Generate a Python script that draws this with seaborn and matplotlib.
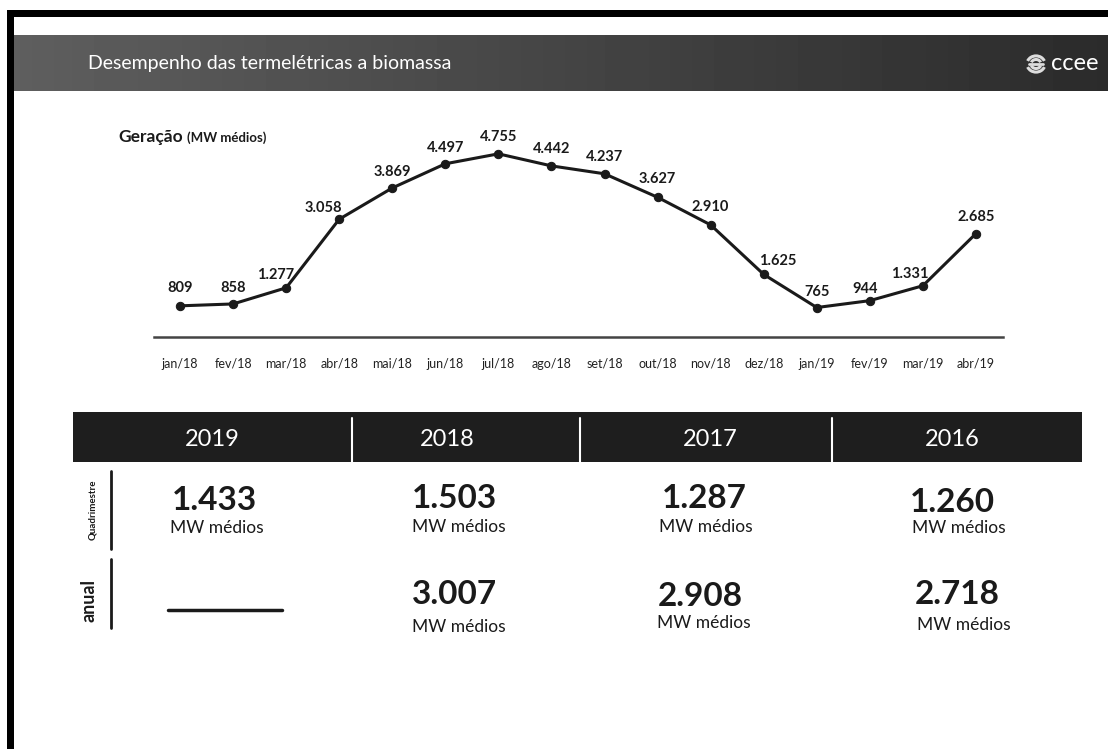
import numpy as np
import pandas as pd
import matplotlib
matplotlib.use("Agg")
import matplotlib.pyplot as plt
import seaborn as sns
from matplotlib.patches import Rectangle, Arc

# ------------------------------------------------------------
# dados
# ------------------------------------------------------------
meses = ["jan/18", "fev/18", "mar/18", "abr/18", "mai/18", "jun/18", "jul/18", "ago/18",
         "set/18", "out/18", "nov/18", "dez/18", "jan/19", "fev/19", "mar/19", "abr/19"]
geracao = [809, 858, 1277, 3058, 3869, 4497, 4755, 4442,
           4237, 3627, 2910, 1625, 765, 944, 1331, 2685]

anos = ["2019", "2018", "2017", "2016"]
quadrimestre = [1433, 1503, 1287, 1260]
anual = [None, 3007, 2908, 2718]   # 2019 ainda sem valor anual


def fmt(v):
    # separador de milhar no padrão brasileiro
    return f"{v:,}".replace(",", ".")


# ------------------------------------------------------------
# configuração
# ------------------------------------------------------------
sns.set_theme(style="white")
plt.rcParams["font.family"] = ["Lato", "DejaVu Sans"]

W, H = 1108, 749
fig = plt.figure(figsize=(W / 100, H / 100), dpi=100)

# fundo em coordenadas de pixel
bg = fig.add_axes([0, 0, 1, 1])
bg.axis("off")

# bordas pretas do scan
bg.add_patch(Rectangle((7, 10), 7, H - 10, color="black", lw=0))
bg.add_patch(Rectangle((7, 10), W - 7, 7, color="black", lw=0))

# faixa do título com degradê
grad = np.linspace(0.37, 0.17, 300).reshape(1, -1)
bg.imshow(grad, extent=[14, W, 91, 35], aspect="auto", cmap="gray", vmin=0, vmax=1)
bg.text(88, 64, "Desempenho das termelétricas a biomassa", color="white",
        fontsize=14, va="center", ha="left")

# logo ccee
bg.text(1051, 64, "ccee", color="white", fontsize=17, va="center", ha="left")
for r, t1, t2 in [(9, 20, 160), (9, 200, 340), (5, 20, 160), (5, 200, 340)]:
    bg.add_patch(Arc((1036, 64), 2 * r, 2 * r * 0.9, theta1=t1, theta2=t2,
                     color="#dddddd", lw=2.2))
bg.plot([1029, 1043], [64, 64], color="#dddddd", lw=2)

# ------------------------------------------------------------
# gráfico de linha
# ------------------------------------------------------------
df = pd.DataFrame({"mes": meses, "geracao": geracao, "pos": range(len(meses))})

ax = fig.add_axes([153.5 / W, 1 - 337 / H, 849 / W, 192.6 / H])
sns.lineplot(data=df, x="pos", y="geracao", ax=ax, color="#1a1a1a", lw=2.2,
             marker="o", markersize=6, markeredgecolor="#1a1a1a", clip_on=False)
ax.set_xlim(-0.5, len(meses) - 0.5)
ax.set_ylim(0, 5000)
ax.set_xticks(df["pos"])
ax.set_xticklabels(meses, fontsize=9, color="#222222")
ax.set_yticks([])
ax.set_xlabel("")
ax.set_ylabel("")
ax.tick_params(axis="x", length=0, pad=15)
for s in ["top", "left", "right"]:
    ax.spines[s].set_visible(False)
ax.spines["bottom"].set_color("#444444")
ax.spines["bottom"].set_linewidth(1.8)
ax.patch.set_alpha(0)

# rótulos de valor (deslocamento em pixels)
dx = [0, 0, -11, -16, 0, 0, 0, 0, 0, 0, 0, 14, 0, -5, -13, 0]
dy = [18, 16, 13, 11, 16, 16, 17, 17, 17, 18, 18, 13, 16, 12, 12, 17]
for i, v in enumerate(geracao):
    ax.annotate(fmt(v), (i, v), xytext=(dx[i], dy[i]), textcoords="offset pixels",
                ha="center", va="center", fontsize=10.5, fontweight="bold", color="#1a1a1a")

bg.text(118, 137, "Geração", fontsize=12.5, fontweight="bold", va="center", ha="left", color="#1a1a1a")
bg.text(187, 138, "(MW médios)", fontsize=9.5, fontweight="bold", va="center", ha="left", color="#1a1a1a")

# ------------------------------------------------------------
# tabela de médias
# ------------------------------------------------------------
bg.add_patch(Rectangle((73, 412), 1082 - 73, 50, color="#1e1e1e", lw=0))
col_x = [212, 447, 710, 952]
for x, ano in zip(col_x, anos):
    bg.text(x, 440, ano, color="white", fontsize=17, ha="center", va="center")
for x in [352, 580, 832]:
    bg.plot([x, x], [418, 465], color="white", lw=1.5)

# rótulos das linhas
bg.plot([111, 111], [471, 549], color="#1a1a1a", lw=2)
bg.plot([111, 111], [559, 628], color="#1a1a1a", lw=2)
bg.text(93, 510, "Quadrimestre", rotation=90, fontsize=7, fontweight="bold",
        ha="center", va="center", color="#1a1a1a")
bg.text(89, 601, "anual", rotation=90, fontsize=13, fontweight="bold",
        ha="center", va="center", color="#1a1a1a")

val_x1 = [172, 412, 662, 910]
val_y1 = [500, 499, 499, 502]
mw_x1 = [170, 412, 659, 912]
mw_y1 = [528, 527, 527, 528]
for i, v in enumerate(quadrimestre):
    bg.text(val_x1[i], val_y1[i], fmt(v), fontsize=24, fontweight="bold",
            ha="left", va="center", color="#1a1a1a")
    bg.text(mw_x1[i], mw_y1[i], "MW médios", fontsize=12.5, ha="left", va="center", color="#1a1a1a")

val_x2 = [168, 412, 658, 915]
val_y2 = [610, 595, 597, 595]
mw_x2 = [168, 412, 657, 917]
mw_y2 = [0, 627, 623, 625]
for i, v in enumerate(anual):
    if v is None:
        bg.plot([168, 282], [val_y2[i], val_y2[i]], color="#1a1a1a", lw=2.5)
        continue
    bg.text(val_x2[i], val_y2[i], fmt(v), fontsize=24, fontweight="bold",
            ha="left", va="center", color="#1a1a1a")
    bg.text(mw_x2[i], mw_y2[i], "MW médios", fontsize=12.5, ha="left", va="center", color="#1a1a1a")

bg.set_xlim(0, W)
bg.set_ylim(H, 0)

fig.savefig("out.png", dpi=100)
